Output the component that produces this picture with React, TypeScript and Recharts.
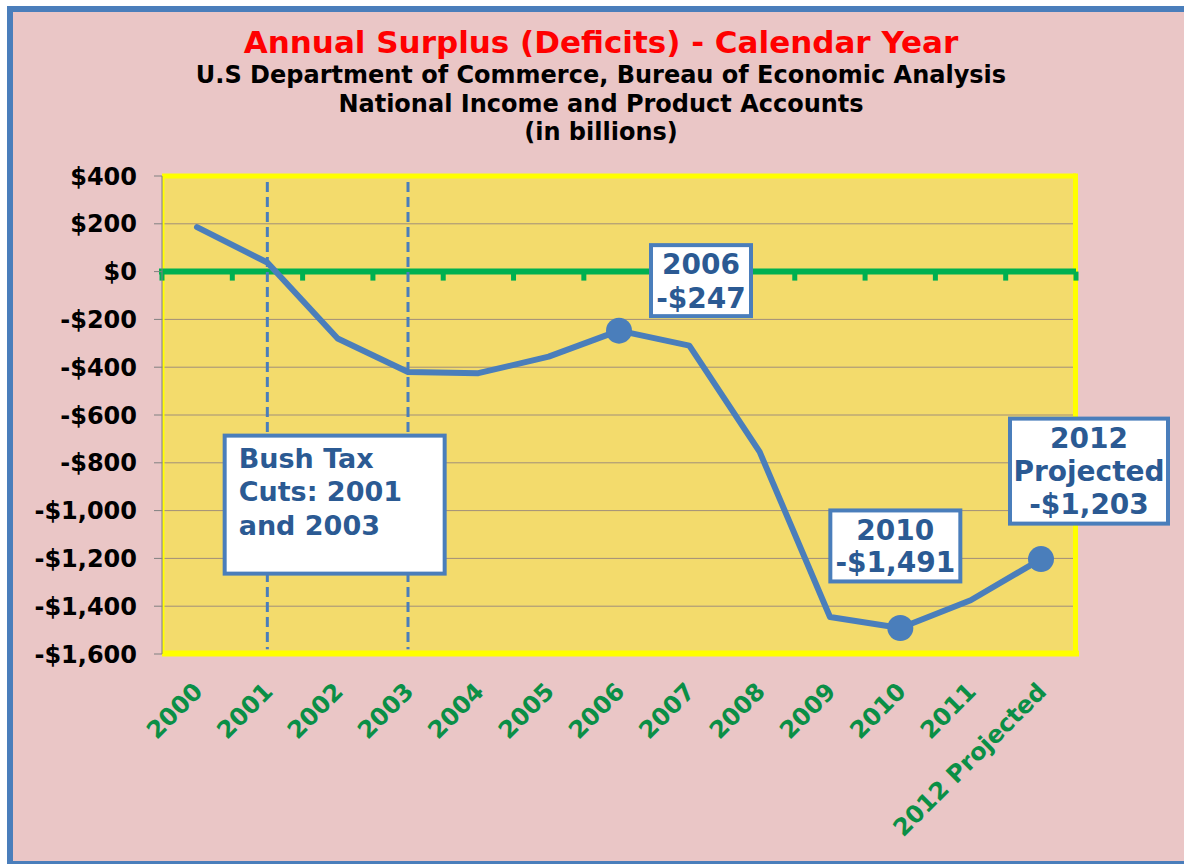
import React from 'react';
import {
  LineChart,
  Line,
  XAxis,
  YAxis,
  CartesianGrid,
  ReferenceLine,
  ReferenceDot,
} from 'recharts';

// ---------- data ----------
const categories = [
  '2000', '2001', '2002', '2003', '2004', '2005', '2006',
  '2007', '2008', '2009', '2010', '2011', '2012 Projected',
];
const surplusDeficit = [186, 38, -280, -420, -425, -356, -247, -310, -754, -1445, -1491, -1375, -1203];
const highlightedYears = ['2006', '2010', '2012 Projected'];
const yTicks = [400, 200, 0, -200, -400, -600, -800, -1000, -1200, -1400, -1600];
const taxCutYears = ['2001', '2003'];
const taxCutLineTop = 375;
const taxCutLineBottom = -1580;

const titleLines = [
  'U.S Department of Commerce, Bureau of Economic Analysis',
  'National Income and Product Accounts',
  '(in billions)',
];
const mainTitle = 'Annual Surplus (Deficits) - Calendar Year';

const data = categories.map((c, i) => ({ year: c, value: surplusDeficit[i] }));

// annotation callouts (anchor in data space, box offset in pixels)
const annotations = [
  { x: '2006', y: -247, lines: ['2006', '-$247'], dx: 82, dy: -50, w: 100, h: 71, lh: 34, fs: 28, textDy: 0, align: 'middle', padX: 0 },
  { x: '2010', y: -1491, lines: ['2010', '-$1,491'], dx: -5, dy: -82, w: 130, h: 71, lh: 32, fs: 28, textDy: 0, align: 'middle', padX: 0 },
  { x: '2012 Projected', y: -1203, lines: ['2012', 'Projected', '-$1,203'], dx: 48, dy: -88, w: 158, h: 105, lh: 33, fs: 28, textDy: 0, align: 'middle', padX: 0 },
  { x: '2002', y: -975, lines: ['Bush Tax', 'Cuts: 2001', 'and 2003'], dx: -3, dy: 0, w: 220, h: 138, lh: 33.5, fs: 27, textDy: -13, align: 'start', padX: 14 },
];

const FONT = '"DejaVu Sans", Verdana, sans-serif';
const BLUE = '#4A7EBB';
const TEXT_BLUE = '#2B5A93';
const GREEN = '#00B050';
const LABEL_GREEN = '#0A8F46';

function fmtMoney(v: number) {
  const s = Math.abs(v).toLocaleString('en-US');
  return (v < 0 ? '-' : '') + '$' + s;
}

const XTick = (props: any) => {
  const { x, y, payload } = props;
  const ax = x + 7;
  const ay = y + 39;
  return (
    <text
      x={ax}
      y={ay}
      transform={`rotate(-45, ${ax}, ${ay})`}
      textAnchor="end"
      fill={LABEL_GREEN}
      fontSize={24}
      fontWeight="bold"
      fontFamily={FONT}
    >
      {payload.value}
    </text>
  );
};

const ZeroAxis = (p: any) => {
  const { x1, x2, y1 } = p;
  if (x1 == null || x2 == null || y1 == null) return <g />;
  const n = categories.length;
  const step = (x2 - x1) / n;
  const marks = Array.from({ length: n + 1 }, (_, k) => x1 + k * step);
  return (
    <g>
      <line x1={x1 - 3} x2={x2} y1={y1} y2={y1} stroke={GREEN} strokeWidth={6} />
      {marks.map((t, k) => (
        <line key={k} x1={t} x2={t} y1={y1} y2={y1 + 9} stroke={GREEN} strokeWidth={5} />
      ))}
    </g>
  );
};

const GridLine = (p: any) => {
  const { x1, x2, y1, index } = p;
  return <line key={`gl-${index}`} x1={x1} x2={x2} y1={y1} y2={y1} stroke="#A08F7A" strokeWidth={1} />;
};

const FrameLine = (p: any) => {
  const { x, y, width, height, index } = p;
  if (index !== 0 || x == null || y == null) return <g key={`fr-${index}`} />;
  return (
    <g key="frame">
      <line x1={x + 1.5} x2={x + 1.5} y1={y} y2={y + height} stroke="#FFFF00" strokeWidth={2} />
      <line x1={x} x2={x + width} y1={y} y2={y} stroke="#FFFF00" strokeWidth={5} />
      <line x1={x} x2={x + width + 3} y1={y + height - 0.5} y2={y + height - 0.5} stroke="#FFFF00" strokeWidth={6} />
      <line x1={x + width - 0.5} x2={x + width - 0.5} y1={y - 2.5} y2={y + height + 2} stroke="#FFFF00" strokeWidth={5} />
    </g>
  );
};

const AnnotationBox = ({ cx, cy, a }: any) => {
  if (cx == null || cy == null) return <g />;
  const bx = cx + a.dx;
  const by = cy + a.dy;
  const left = bx - a.w / 2;
  const top = by - a.h / 2;
  const n = a.lines.length;
  const tx = a.align === 'start' ? left + a.padX : bx;
  return (
    <g>
      <rect x={left} y={top} width={a.w} height={a.h} fill="#FFFFFF" stroke={BLUE} strokeWidth={4} />
      <text
        fontFamily={FONT}
        fontWeight="bold"
        fontSize={a.fs}
        fill={TEXT_BLUE}
        textAnchor={a.align === 'start' ? 'start' : 'middle'}
      >
        {a.lines.map((l: string, i: number) => (
          <tspan key={i} x={tx} y={by + a.textDy + (i - (n - 1) / 2) * a.lh + 0.36 * a.fs}>
            {l}
          </tspan>
        ))}
      </text>
    </g>
  );
};

const renderDot = (props: any) => {
  const { cx, cy, payload, index } = props;
  if (payload && highlightedYears.includes(payload.year)) {
    return <circle key={`dot-${index}`} cx={cx} cy={cy} r={13} fill={BLUE} />;
  }
  return <g key={`dot-${index}`} />;
};

export default function App() {
  return (
    <div style={{ position: 'absolute', left: 0, top: 0, width: 1184, height: 864, background: '#FFFFFF', overflow: 'hidden' }}>
      <div
        style={{
          position: 'absolute',
          left: 7,
          top: 6,
          width: 1200,
          height: 849,
          border: `6px solid ${BLUE}`,
          background: '#EAC6C6',
        }}
      />
      <div style={{ position: 'absolute', left: 0, top: 0 }}>
        <LineChart
          width={1184}
          height={864}
          data={data}
          margin={{ top: 176, right: 108, bottom: 0, left: 0 }}
        >
          <CartesianGrid vertical={false} horizontal={GridLine} fill="#F3DB6C" />
          <XAxis
            dataKey="year"
            padding={{ left: 35, right: 35 }}
            height={210}
            tickLine={false}
            axisLine={false}
            tickSize={0}
            tickMargin={0}
            interval={0}
            tick={<XTick />}
          />
          <YAxis
            domain={[-1600, 400]}
            ticks={yTicks}
            width={162}
            tickSize={8}
            tickMargin={17}
            interval={0}
            axisLine={{ stroke: '#808080' }}
            tickLine={{ stroke: '#808080' }}
            tickFormatter={fmtMoney}
            tick={{ fill: '#000000', fontSize: 24, fontWeight: 'bold', fontFamily: FONT }}
          />
          <CartesianGrid vertical={false} horizontal={FrameLine} fill="none" />
          <ReferenceLine y={0} shape={ZeroAxis} ifOverflow="visible" />
          {taxCutYears.map((yr) => (
            <ReferenceLine
              key={yr}
              segment={[{ x: yr, y: taxCutLineTop }, { x: yr, y: taxCutLineBottom }]}
              stroke={BLUE}
              strokeWidth={3}
              strokeDasharray="10 5"
            />
          ))}
          <Line
            type="linear"
            dataKey="value"
            stroke={BLUE}
            strokeWidth={6}
            strokeLinejoin="round"
            strokeLinecap="round"
            dot={renderDot}
            activeDot={false}
            isAnimationActive={false}
          />
          {annotations.map((a) => (
            <ReferenceDot
              key={a.lines.join('-')}
              x={a.x}
              y={a.y}
              r={0}
              ifOverflow="visible"
              shape={(p: any) => <AnnotationBox cx={p.cx} cy={p.cy} a={a} />}
            />
          ))}
        </LineChart>
      </div>
      <svg width={1184} height={864} style={{ position: 'absolute', left: 0, top: 0, pointerEvents: 'none' }}>
        <text x={601} y={53} textAnchor="middle" fontFamily={FONT} fontWeight="bold" fontSize={31} fill="#FF0000">
          {mainTitle}
        </text>
        {titleLines.map((t, i) => (
          <text
            key={i}
            x={601}
            y={83 + i * 28.5}
            textAnchor="middle"
            fontFamily={FONT}
            fontWeight="bold"
            fontSize={24}
            fill="#000000"
          >
            {t}
          </text>
        ))}
      </svg>
    </div>
  );
}
